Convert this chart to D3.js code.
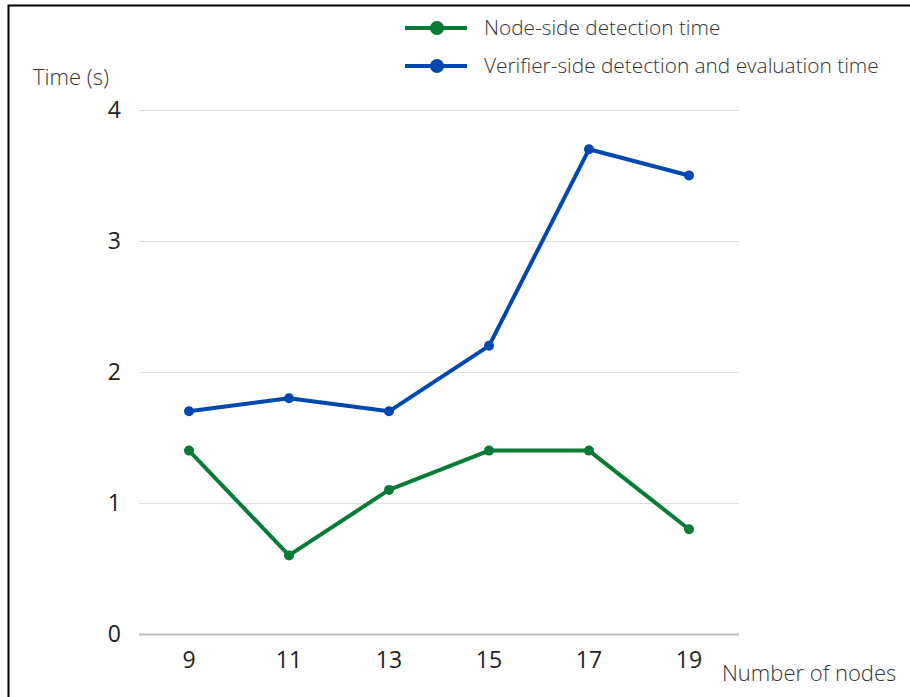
<!DOCTYPE html>
<html>
<head>
<meta charset="utf-8">
<script src="https://cdn.jsdelivr.net/npm/d3@7"></script>
<style>
  html, body { margin: 0; padding: 0; background: #fff; }
  svg { display: block; font-family: "Open Sans", sans-serif; }
</style>
</head>
<body>
<svg id="chart" width="910" height="697"></svg>
<script>
// detection times by cluster size
const nodeCounts = ['9', '11', '13', '15', '17', '19'];
const nodeSide = [1.4, 0.6, 1.1, 1.4, 1.4, 0.8];
const verifierSide = [1.7, 1.8, 1.7, 2.2, 3.7, 3.5];
const yTicks = [0, 1, 2, 3, 4];

const series = [
  { name: 'Node-side detection time', values: nodeSide, color: '#087b36' },
  { name: 'Verifier-side detection and evaluation time', values: verifierSide, color: '#0047ae' }
];

const svg = d3.select('#chart');

// frame (left + top edges only)
svg.append('path')
  .attr('d', 'M8.5,697 V5.5 H910')
  .attr('fill', 'none')
  .attr('stroke', '#000')
  .attr('stroke-width', 2);

const x = d3.scaleBand().domain(nodeCounts).range([139, 739]);
const y = d3.scaleLinear().domain([0, 4]).range([634, 110]);

// gridlines
svg.append('g').selectAll('line')
  .data(yTicks)
  .join('line')
  .attr('x1', 139).attr('x2', 739)
  .attr('y1', d => Math.round(y(d)) + 0.5).attr('y2', d => Math.round(y(d)) + 0.5)
  .attr('stroke', d => d === 0 ? '#bdbdbd' : '#e0e0e0')
  .attr('stroke-width', d => d === 0 ? 2 : 1.2);

// y tick labels
svg.append('g').selectAll('text')
  .data(yTicks)
  .join('text')
  .attr('x', 121)
  .attr('y', d => y(d))
  .attr('dy', '0.35em')
  .attr('text-anchor', 'end')
  .attr('font-size', 23)
  .attr('fill', '#222')
  .text(d => d);

// x tick labels
svg.append('g').selectAll('text')
  .data(nodeCounts)
  .join('text')
  .attr('x', d => x(d) + x.bandwidth() / 2)
  .attr('y', 668)
  .attr('text-anchor', 'middle')
  .attr('font-size', 23)
  .attr('fill', '#222')
  .text(d => d);

// axis titles
svg.append('text')
  .attr('x', 33).attr('y', 85)
  .attr('font-size', 22)
  .attr('font-weight', 300)
  .attr('fill', '#333')
  .text('Time (s)');

svg.append('text')
  .attr('x', 722).attr('y', 681)
  .attr('font-size', 22)
  .attr('font-weight', 300)
  .attr('fill', '#333')
  .text('Number of nodes');

// lines + points
const line = d3.line()
  .x((d, i) => x(nodeCounts[i]) + x.bandwidth() / 2)
  .y(d => y(d));

series.forEach(s => {
  const g = svg.append('g');
  g.append('path')
    .datum(s.values)
    .attr('d', line)
    .attr('fill', 'none')
    .attr('stroke', s.color)
    .attr('stroke-width', 4)
    .attr('stroke-linejoin', 'round');
  g.selectAll('circle')
    .data(s.values)
    .join('circle')
    .attr('cx', (d, i) => x(nodeCounts[i]) + x.bandwidth() / 2)
    .attr('cy', d => y(d))
    .attr('r', 5)
    .attr('fill', s.color);
});

// legend
const legend = svg.append('g').selectAll('g')
  .data(series)
  .join('g')
  .attr('transform', (d, i) => `translate(405,${28 + i * 38})`);

legend.append('line')
  .attr('x1', 0).attr('x2', 62)
  .attr('stroke', d => d.color)
  .attr('stroke-width', 4);

legend.append('circle')
  .attr('cx', 32).attr('r', 7)
  .attr('fill', d => d.color);

legend.append('text')
  .attr('x', 79)
  .attr('dy', '0.35em')
  .attr('font-size', 20.8)
  .attr('font-weight', 300)
  .attr('fill', '#333')
  .text(d => d.name);
</script>
</body>
</html>
